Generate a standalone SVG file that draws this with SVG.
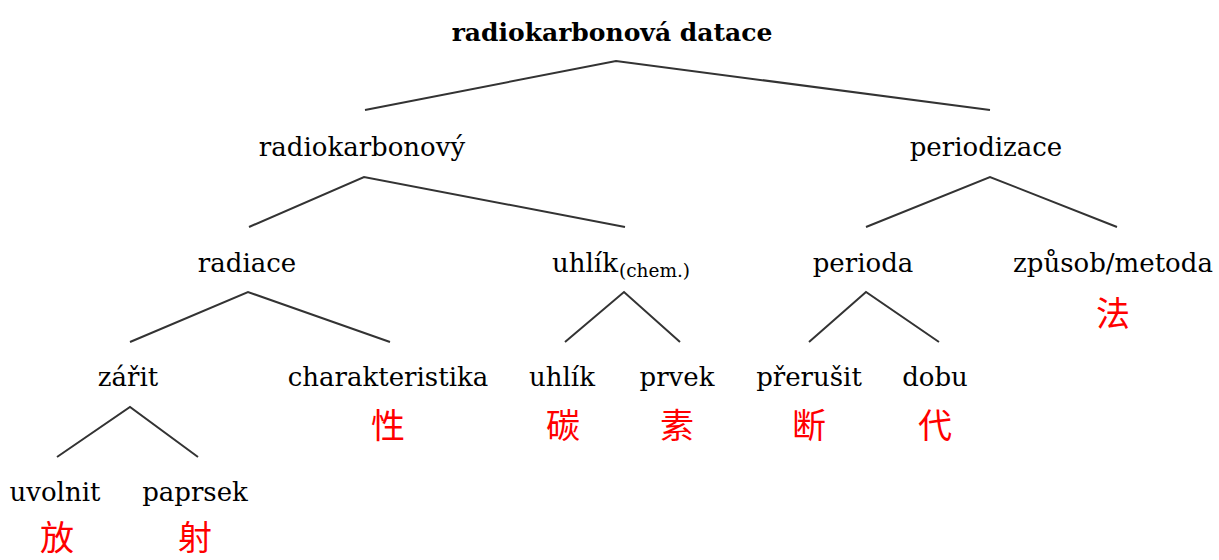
<svg xmlns="http://www.w3.org/2000/svg" width="1219" height="560" viewBox="0 0 1219 560">
<style>
.t{font-family:"DejaVu Serif","Liberation Serif",serif;font-size:26px;fill:#000;text-anchor:middle}
.b{font-weight:bold;font-size:25px}
.s{font-size:18.5px;text-anchor:start}
.c{font-family:"Noto Sans CJK SC","Noto Sans CJK JP",sans-serif;font-size:34px;fill:#ff0000;text-anchor:middle}
.e{fill:none;stroke:#333;stroke-width:2;stroke-linejoin:miter}
</style>
<rect width="1219" height="560" fill="#fff"/>
<g id="connectors">
<polyline class="e" points="365,110 616,61 990,110"/>
<polyline class="e" points="249,227 364,177 625,227"/>
<polyline class="e" points="866,227 990,177 1117,227"/>
<polyline class="e" points="130,342 248,292 390,342"/>
<polyline class="e" points="565,342 624,292 680,342"/>
<polyline class="e" points="809,342 866,292 939,342"/>
<polyline class="e" points="57,457 130,407 198,457"/>
</g>
<g id="n-root"><text class="t b" x="612" y="41">radiokarbonová datace</text></g>
<g id="n-radiokarbonovy"><text class="t" x="362" y="156">radiokarbonový</text></g>
<g id="n-periodizace"><text class="t" x="986" y="156">periodizace</text></g>
<g id="n-radiace"><text class="t" x="247" y="272">radiace</text></g>
<g id="n-uhlik-chem"><text class="t" x="585" y="272">uhlík</text><text class="t s" x="619" y="277">(chem.)</text></g>
<g id="n-perioda"><text class="t" x="863" y="272">perioda</text></g>
<g id="n-zpusob"><text class="t" x="1113" y="272">způsob/metoda</text><text class="c" x="1113" y="326">法</text></g>
<g id="n-zarit"><text class="t" x="128" y="386">zářit</text></g>
<g id="n-charakteristika"><text class="t" x="388" y="386">charakteristika</text><text class="c" x="388" y="438">性</text></g>
<g id="n-uhlik"><text class="t" x="562" y="386">uhlík</text><text class="c" x="563" y="438">碳</text></g>
<g id="n-prvek"><text class="t" x="677" y="386">prvek</text><text class="c" x="677" y="438">素</text></g>
<g id="n-prerusit"><text class="t" x="809" y="386">přerušit</text><text class="c" x="809" y="438">断</text></g>
<g id="n-dobu"><text class="t" x="935" y="386">dobu</text><text class="c" x="935" y="438">代</text></g>
<g id="n-uvolnit"><text class="t" x="55" y="501">uvolnit</text><text class="c" x="57" y="550">放</text></g>
<g id="n-paprsek"><text class="t" x="195" y="501">paprsek</text><text class="c" x="195" y="550">射</text></g>
</svg>
